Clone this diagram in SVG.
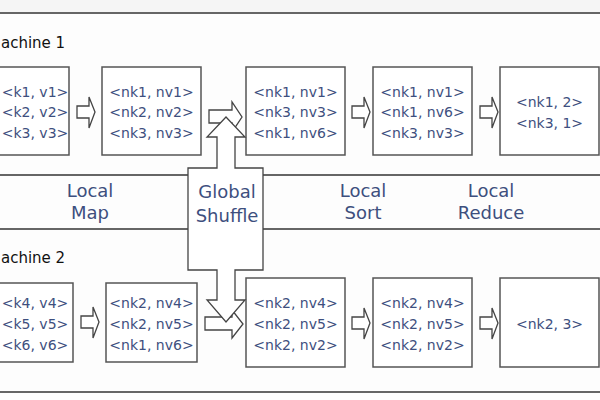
<svg xmlns="http://www.w3.org/2000/svg" width="600" height="400" viewBox="0 0 600 400">
<style>
.frame{stroke:#666;stroke-width:2;fill:none}
.box{fill:#fff;stroke:#555;stroke-width:1.5}
.arr{fill:#fff;stroke:#444;stroke-width:1.3;stroke-linejoin:miter}
.t{font-family:"DejaVu Sans",Verdana,sans-serif;font-size:14px;fill:#3e4f7e;text-anchor:middle}
.stage{font-family:"DejaVu Sans",Verdana,sans-serif;font-size:18px;fill:#3e4f7e;text-anchor:middle}
.mach{font-family:"DejaVu Sans",Verdana,sans-serif;font-size:15px;fill:#111}
</style>
<rect x="0" y="0" width="600" height="400" fill="#fdfdfd"/>
<rect x="0" y="0" width="600" height="13" fill="#f5f5f5"/>
<g id="frame">
<line class="frame" x1="0" y1="13" x2="600" y2="13"/>
<line class="frame" x1="0" y1="175" x2="600" y2="175"/>
<line class="frame" x1="0" y1="229" x2="600" y2="229"/>
<line class="frame" x1="0" y1="392" x2="600" y2="392"/>
</g>
<g id="labels">
<text class="mach" x="1" y="48">achine 1</text>
<text class="mach" x="1" y="263">achine 2</text>
<text class="stage" x="90" y="197">Local</text>
<text class="stage" x="90" y="219">Map</text>
<text class="stage" x="363" y="197">Local</text>
<text class="stage" x="363" y="219">Sort</text>
<text class="stage" x="491" y="197">Local</text>
<text class="stage" x="491" y="219">Reduce</text>
</g>
<g id="m1a"><rect class="box" x="-30" y="67" width="99" height="88"/>
<text class="t" x="35" y="97">&lt;k1, v1&gt;</text><text class="t" x="35" y="117">&lt;k2, v2&gt;</text><text class="t" x="35" y="138">&lt;k3, v3&gt;</text></g>
<g id="m1b"><rect class="box" x="102" y="67" width="99" height="88"/>
<text class="t" x="151.5" y="97">&lt;nk1, nv1&gt;</text><text class="t" x="151.5" y="117">&lt;nk2, nv2&gt;</text><text class="t" x="151.5" y="138">&lt;nk3, nv3&gt;</text></g>
<g id="m1c"><rect class="box" x="246" y="67" width="99" height="88"/>
<text class="t" x="295.5" y="97">&lt;nk1, nv1&gt;</text><text class="t" x="295.5" y="117">&lt;nk3, nv3&gt;</text><text class="t" x="295.5" y="138">&lt;nk1, nv6&gt;</text></g>
<g id="m1d"><rect class="box" x="373" y="67" width="99" height="88"/>
<text class="t" x="422.5" y="97">&lt;nk1, nv1&gt;</text><text class="t" x="422.5" y="117">&lt;nk1, nv6&gt;</text><text class="t" x="422.5" y="138">&lt;nk3, nv3&gt;</text></g>
<g id="m1e"><rect class="box" x="500" y="67" width="99" height="88"/>
<text class="t" x="549.5" y="107">&lt;nk1, 2&gt;</text><text class="t" x="549.5" y="128">&lt;nk3, 1&gt;</text></g>
<g id="m2a"><rect class="box" x="-30" y="283" width="103" height="79"/>
<text class="t" x="35" y="308">&lt;k4, v4&gt;</text><text class="t" x="35" y="329">&lt;k5, v5&gt;</text><text class="t" x="35" y="350">&lt;k6, v6&gt;</text></g>
<g id="m2b"><rect class="box" x="106" y="283" width="91" height="79"/>
<text class="t" x="151.5" y="308">&lt;nk2, nv4&gt;</text><text class="t" x="151.5" y="329">&lt;nk2, nv5&gt;</text><text class="t" x="151.5" y="350">&lt;nk1, nv6&gt;</text></g>
<g id="m2c"><rect class="box" x="246" y="278" width="99" height="89"/>
<text class="t" x="295.5" y="308">&lt;nk2, nv4&gt;</text><text class="t" x="295.5" y="329">&lt;nk2, nv5&gt;</text><text class="t" x="295.5" y="350">&lt;nk2, nv2&gt;</text></g>
<g id="m2d"><rect class="box" x="373" y="278" width="99" height="89"/>
<text class="t" x="422.5" y="308">&lt;nk2, nv4&gt;</text><text class="t" x="422.5" y="329">&lt;nk2, nv5&gt;</text><text class="t" x="422.5" y="350">&lt;nk2, nv2&gt;</text></g>
<g id="m2e"><rect class="box" x="500" y="278" width="99" height="89"/>
<text class="t" x="549.5" y="329">&lt;nk2, 3&gt;</text></g>
<g id="connectors">
<polygon class="arr" points="77,106 89,106 89,97 95,112 89,128 89,118 77,118"/>
<polygon class="arr" points="352,106 364,106 364,97 370,112 364,128 364,118 352,118"/>
<polygon class="arr" points="480,106 492,106 492,97 498,112 492,128 492,118 480,118"/>
<polygon class="arr" points="81,316 93,316 93,307 99,322 93,338 93,328 81,328"/>
<polygon class="arr" points="352,317 364,317 364,308 370,323 364,339 364,329 352,329"/>
<polygon class="arr" points="480,317 492,317 492,308 498,323 492,339 492,329 480,329"/>
<polygon class="arr" points="209,110 232,110 232,102 242,117 232,132 232,123 209,123"/>
<polygon class="arr" points="205,317 232,317 232,310 243,324 232,338 232,330 205,330"/>
</g>
<g id="shuffle">
<polygon class="arr" points="188,168 217,168 217,137 207,137 226,117 245,137 235,137 235,168 263,168 263,270 235,270 235,300 245,300 226,322 207,300 217,300 217,270 188,270"/>
<text class="stage" x="227" y="198">Global</text>
<text class="stage" x="227" y="222">Shuffle</text>
</g>
</svg>
